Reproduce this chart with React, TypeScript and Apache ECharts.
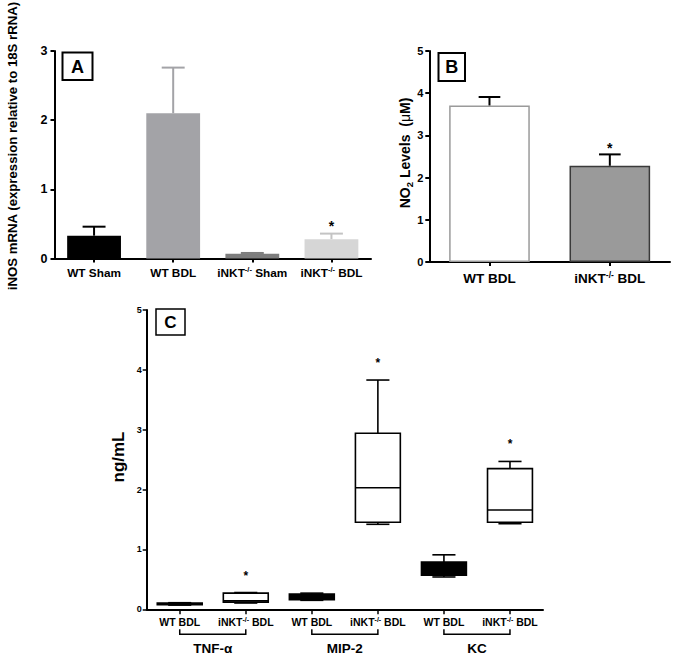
import React, { useEffect, useRef } from 'react';
import * as echarts from 'echarts';

const FONT = '"Liberation Sans", Arial, Helvetica, sans-serif';

// ---------- Panel A: iNOS mRNA ----------
const aCategories = ['WT Sham', 'WT BDL', 'iNKT-/- Sham', 'iNKT-/- BDL'];
const aMeans = [0.33, 2.1, 0.07, 0.28];
const aErrors = [0.13, 0.66, 0.01, 0.08];
const aSignificant = [0, 0, 0, 1];

// ---------- Panel B: NO2 levels ----------
const bCategories = ['WT BDL', 'iNKT-/- BDL'];
const bMeans = [3.71, 2.28];
const bErrors = [0.2, 0.27];
const bSignificant = [0, 1];

// ---------- Panel C: cytokines (box plots) ----------
const cCategories = ['WT BDL', 'iNKT-/- BDL', 'WT BDL', 'iNKT-/- BDL', 'WT BDL', 'iNKT-/- BDL'];
const cGroups = ['TNF-α', 'MIP-2', 'KC'];
const cMin = [0.07, 0.105, 0.15, 1.42, 0.54, 1.43];
const cQ1 = [0.075, 0.12, 0.16, 1.455, 0.57, 1.455];
const cMedian = [0.09, 0.14, 0.21, 2.03, 0.68, 1.66];
const cQ3 = [0.105, 0.27, 0.255, 2.94, 0.79, 2.35];
const cMax = [0.11, 0.28, 0.27, 3.83, 0.91, 2.47];
const cSignificant = [0, 1, 0, 1, 0, 1];

// ---------- styles ----------
const aBarColors = ['#000000', '#a3a3a7', '#7d7d7d', '#d6d6d6'];
const aErrColors = ['#000000', '#a3a3a7', '#7d7d7d', '#c4c4c4'];
const bBarFills = ['#ffffff', '#9a9a9a'];
const bBarBorders = ['#9a9a9a', '#3a3a3a'];
const bErrColors = ['#000000', '#000000'];
const cFills = ['#000000', '#ffffff', '#000000', '#ffffff', '#000000', '#ffffff'];

const supFormat = (s: string) => s.replace('-/-', '{sup|-/-}');

const supRich = (size: number) => ({
  sup: {
    fontSize: size,
    fontWeight: 'bold',
    fontFamily: FONT,
    color: '#000',
    verticalAlign: 'top',
    lineHeight: size,
  },
});

function errorRenderer(colors: string[], capFrac: number, starOffset: number, starSize: number, lw: number) {
  return (params: any, api: any) => {
    const i = api.value(0);
    const m = api.value(1);
    const e = api.value(2);
    const sig = api.value(3);
    const band = api.size([1, 0])[0];
    const capW = band * capFrac;
    const top = api.coord([i, m]);
    const end = api.coord([i, m + e]);
    const stroke = colors[i];
    const children: any[] = [
      { type: 'line', shape: { x1: top[0], y1: top[1], x2: end[0], y2: end[1] }, style: { stroke, lineWidth: lw } },
      { type: 'line', shape: { x1: end[0] - capW / 2, y1: end[1], x2: end[0] + capW / 2, y2: end[1] }, style: { stroke, lineWidth: lw } },
    ];
    if (sig) {
      children.push({
        type: 'text',
        x: end[0],
        y: end[1] - starOffset,
        style: { text: '*', fontSize: starSize, fontWeight: 'bold', fontFamily: FONT, fill: '#000', align: 'center', verticalAlign: 'middle' },
      });
    }
    return { type: 'group', children };
  };
}

function boxRenderer(params: any, api: any) {
  const i = api.value(0);
  const mn = api.value(1);
  const q1 = api.value(2);
  const md = api.value(3);
  const q3 = api.value(4);
  const mx = api.value(5);
  const sig = api.value(6);
  const band = api.size([1, 0])[0];
  const boxW = band * 0.68;
  const capW = band * 0.35;
  const pMin = api.coord([i, mn]);
  const pQ1 = api.coord([i, q1]);
  const pMd = api.coord([i, md]);
  const pQ3 = api.coord([i, q3]);
  const pMax = api.coord([i, mx]);
  const x = pMin[0];
  const st = { stroke: '#000', lineWidth: 1.6 };
  const children: any[] = [
    { type: 'line', shape: { x1: x, y1: pQ3[1], x2: x, y2: pMax[1] }, style: st },
    { type: 'line', shape: { x1: x - capW / 2, y1: pMax[1], x2: x + capW / 2, y2: pMax[1] }, style: st },
    { type: 'line', shape: { x1: x, y1: pQ1[1], x2: x, y2: pMin[1] }, style: st },
    { type: 'line', shape: { x1: x - capW / 2, y1: pMin[1], x2: x + capW / 2, y2: pMin[1] }, style: st },
    {
      type: 'rect',
      shape: { x: x - boxW / 2, y: pQ3[1], width: boxW, height: Math.max(pQ1[1] - pQ3[1], 1) },
      style: { fill: cFills[i], stroke: '#000', lineWidth: 1.6 },
    },
    { type: 'line', shape: { x1: x - boxW / 2, y1: pMd[1], x2: x + boxW / 2, y2: pMd[1] }, style: st },
  ];
  if (sig) {
    children.push({
      type: 'text',
      x,
      y: pMax[1] - 17,
      style: { text: '*', fontSize: 12, fontWeight: 'bold', fontFamily: FONT, fill: '#000', align: 'center', verticalAlign: 'middle' },
    });
  }
  return { type: 'group', children };
}

function bracketRenderer(params: any, api: any) {
  const g = api.value(0);
  const p1 = api.coord([g * 2, 0]);
  const p2 = api.coord([g * 2 + 1, 0]);
  const y0 = p1[1];
  return {
    type: 'group',
    children: [
      {
        type: 'polyline',
        shape: { points: [[p1[0], y0 + 20], [p1[0], y0 + 25], [p2[0], y0 + 25], [p2[0], y0 + 20]] },
        style: { stroke: '#000', lineWidth: 1.5, fill: 'none' },
      },
      {
        type: 'text',
        x: (p1[0] + p2[0]) / 2,
        y: y0 + 39,
        style: { text: cGroups[g], fontSize: 13.5, fontWeight: 'bold', fontFamily: FONT, fill: '#000', align: 'center', verticalAlign: 'middle' },
      },
    ],
  };
}

const axisLineStyle = (w: number) => ({ show: true, onZero: false, lineStyle: { color: '#000', width: w } });

const option: any = {
  animation: false,
  backgroundColor: '#ffffff',
  grid: [
    { left: 54.5, top: 51, width: 316.5, height: 207.5, outerBoundsMode: 'none' },
    { left: 429.3, top: 51, width: 240.7, height: 211, outerBoundsMode: 'none' },
    { left: 146.7, top: 310, width: 396.3, height: 299.3, outerBoundsMode: 'none' },
  ],
  xAxis: [
    {
      gridIndex: 0,
      type: 'category',
      data: aCategories,
      axisLine: axisLineStyle(2),
      axisTick: { show: true, alignWithLabel: true, length: 4, lineStyle: { color: '#000', width: 2 } },
      axisLabel: {
        interval: 0,
        formatter: supFormat,
        color: '#000',
        fontFamily: FONT,
        fontWeight: 'bold',
        fontSize: 11.8,
        lineHeight: 14,
        margin: 7,
        rich: supRich(7.5),
      },
      splitLine: { show: false },
    },
    {
      gridIndex: 1,
      type: 'category',
      data: bCategories,
      axisLine: axisLineStyle(2),
      axisTick: { show: true, alignWithLabel: true, length: 4, lineStyle: { color: '#000', width: 2 } },
      axisLabel: {
        interval: 0,
        formatter: supFormat,
        color: '#000',
        fontFamily: FONT,
        fontWeight: 'bold',
        fontSize: 13.5,
        lineHeight: 16,
        margin: 8.5,
        rich: supRich(8.5),
      },
      splitLine: { show: false },
    },
    {
      gridIndex: 2,
      type: 'category',
      data: cCategories,
      axisLine: axisLineStyle(2),
      axisTick: { show: true, alignWithLabel: true, length: 5, lineStyle: { color: '#000', width: 1.5 } },
      axisLabel: {
        interval: 0,
        formatter: supFormat,
        color: '#000',
        fontFamily: FONT,
        fontWeight: 'bold',
        fontSize: 10.5,
        lineHeight: 13,
        margin: 6.5,
        rich: supRich(7),
      },
      splitLine: { show: false },
    },
  ],
  yAxis: [
    {
      gridIndex: 0,
      type: 'value',
      min: 0,
      max: 3,
      interval: 1,
      axisLine: axisLineStyle(2),
      axisTick: { show: true, length: 4, lineStyle: { color: '#000', width: 2 } },
      axisLabel: { color: '#000', fontFamily: FONT, fontWeight: 'bold', fontSize: 12.5, margin: 7 },
      splitLine: { show: false },
    },
    {
      gridIndex: 1,
      type: 'value',
      min: 0,
      max: 5,
      interval: 1,
      axisLine: axisLineStyle(2),
      axisTick: { show: true, length: 4, lineStyle: { color: '#000', width: 2 } },
      axisLabel: { color: '#000', fontFamily: FONT, fontWeight: 'bold', fontSize: 11, margin: 6 },
      splitLine: { show: false },
    },
    {
      gridIndex: 2,
      type: 'value',
      min: 0,
      max: 5,
      interval: 1,
      axisLine: axisLineStyle(2),
      axisTick: { show: true, length: 4, lineStyle: { color: '#000', width: 1.5 } },
      axisLabel: { color: '#000', fontFamily: FONT, fontWeight: 'bold', fontSize: 9, margin: 5 },
      splitLine: { show: false },
    },
  ],
  series: [
    {
      type: 'bar',
      xAxisIndex: 0,
      yAxisIndex: 0,
      barWidth: '68%',
      silent: true,
      data: aMeans.map((v, i) => ({ value: v, itemStyle: { color: aBarColors[i] } })),
    },
    {
      type: 'custom',
      xAxisIndex: 0,
      yAxisIndex: 0,
      silent: true,
      renderItem: errorRenderer(aErrColors, 0.29, 8, 14, 2),
      data: aMeans.map((v, i) => [i, v, aErrors[i], aSignificant[i]]),
      z: 3,
    },
    {
      type: 'bar',
      xAxisIndex: 1,
      yAxisIndex: 1,
      barWidth: '67%',
      silent: true,
      data: bMeans.map((v, i) => ({
        value: v,
        itemStyle: { color: bBarFills[i], borderColor: bBarBorders[i], borderWidth: 1.5 },
      })),
    },
    {
      type: 'custom',
      xAxisIndex: 1,
      yAxisIndex: 1,
      silent: true,
      renderItem: errorRenderer(bErrColors, 0.18, 6.5, 14, 2),
      data: bMeans.map((v, i) => [i, v, bErrors[i], bSignificant[i]]),
      z: 3,
    },
    {
      type: 'custom',
      xAxisIndex: 2,
      yAxisIndex: 2,
      silent: true,
      renderItem: boxRenderer,
      data: cMin.map((v, i) => [i, v, cQ1[i], cMedian[i], cQ3[i], cMax[i], cSignificant[i]]),
      z: 3,
    },
    {
      type: 'custom',
      xAxisIndex: 2,
      yAxisIndex: 2,
      silent: true,
      clip: false,
      renderItem: bracketRenderer,
      data: cGroups.map((g, i) => [i, 0]),
      z: 3,
    },
  ],
  graphic: [
    { type: 'rect', shape: { x: 62.5, y: 52.5, width: 30, height: 27.5 }, style: { fill: '#fff', stroke: '#000', lineWidth: 2 } },
    {
      type: 'text',
      x: 77.5,
      y: 66.5,
      style: { text: 'A', fontSize: 18, fontWeight: 'bold', fontFamily: FONT, fill: '#000', align: 'center', verticalAlign: 'middle' },
    },
    { type: 'rect', shape: { x: 438.5, y: 53, width: 26.5, height: 28 }, style: { fill: '#fff', stroke: '#000', lineWidth: 2 } },
    {
      type: 'text',
      x: 451.8,
      y: 67.2,
      style: { text: 'B', fontSize: 18, fontWeight: 'bold', fontFamily: FONT, fill: '#000', align: 'center', verticalAlign: 'middle' },
    },
    { type: 'rect', shape: { x: 156, y: 309, width: 29, height: 26 }, style: { fill: '#fff', stroke: '#000', lineWidth: 1.5 } },
    {
      type: 'text',
      x: 170.5,
      y: 322.3,
      style: { text: 'C', fontSize: 17, fontWeight: 'bold', fontFamily: FONT, fill: '#000', align: 'center', verticalAlign: 'middle' },
    },
    {
      type: 'text',
      x: 12,
      y: 146,
      rotation: Math.PI / 2,
      style: {
        text: 'iNOS mRNA (expression relative to 18S rRNA)',
        fontSize: 13.2,
        fontWeight: 'bold',
        fontFamily: FONT,
        fill: '#000',
        align: 'center',
        verticalAlign: 'middle',
      },
    },
    {
      type: 'text',
      x: 405,
      y: 153,
      rotation: Math.PI / 2,
      style: {
        text: '{n|NO}{s|2}{n| Levels  (}{m|μ}{n|M)}',
        align: 'center',
        verticalAlign: 'middle',
        rich: {
          n: { fontSize: 14, fontWeight: 'bold', fontFamily: FONT, fill: '#000', lineHeight: 18 },
          s: { fontSize: 9.5, fontWeight: 'bold', fontFamily: FONT, fill: '#000', lineHeight: 10, verticalAlign: 'bottom' },
          m: { fontSize: 14, fontWeight: 'normal', fontFamily: FONT, fill: '#000', lineHeight: 18 },
        },
      },
    },
    {
      type: 'text',
      x: 118,
      y: 457,
      rotation: Math.PI / 2,
      style: { text: 'ng/mL', fontSize: 17, fontWeight: 'bold', fontFamily: FONT, fill: '#000', align: 'center', verticalAlign: 'middle' },
    },
  ],
};

export default function App() {
  const ref = useRef<HTMLDivElement>(null);
  useEffect(() => {
    if (!ref.current) return;
    const chart = echarts.init(ref.current, null, { renderer: 'svg' });
    chart.setOption(option);
    return () => chart.dispose();
  }, []);
  return (
    <div
      ref={ref}
      style={{ position: 'fixed', left: 0, top: 0, width: 674, height: 658, background: '#ffffff' }}
    />
  );
}
